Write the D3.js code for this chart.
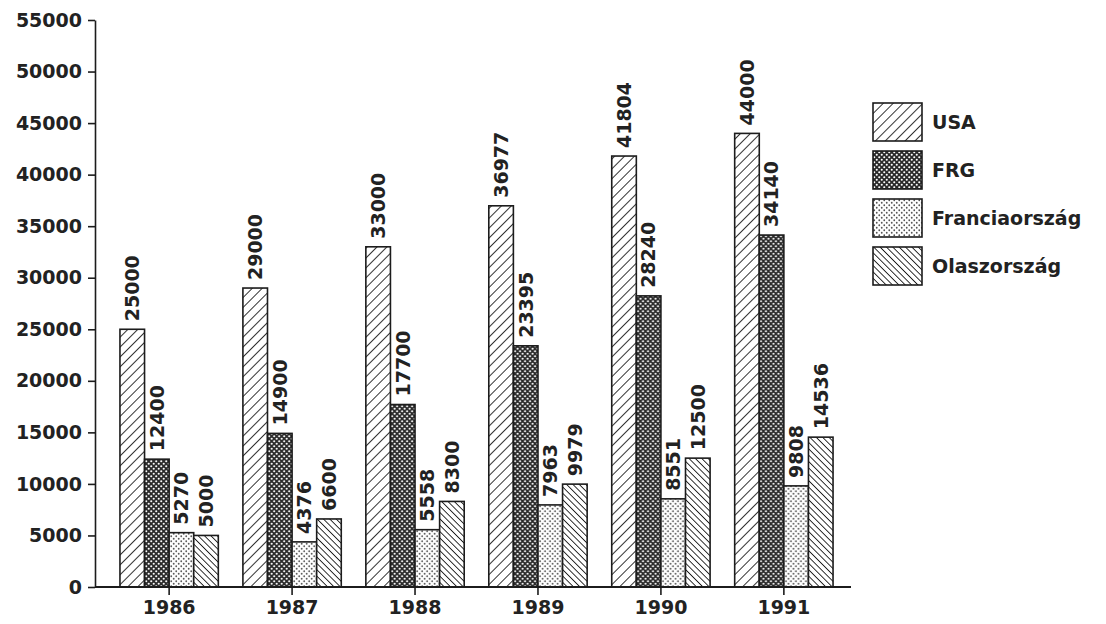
<!DOCTYPE html>
<html>
<head>
<meta charset="utf-8">
<script src="https://cdn.jsdelivr.net/npm/d3@7"></script>
<style>
  html, body { margin: 0; padding: 0; background: #ffffff; }
  svg { display: block; }
  text { font-family: "DejaVu Sans", sans-serif; font-weight: bold; fill: #222; }
</style>
</head>
<body>
<svg id="chart" width="1106" height="624"></svg>
<script>
// Years on the category axis
const years = ["1986", "1987", "1988", "1989", "1990", "1991"];

// Series names (legend order)
const seriesNames = ["USA", "FRG", "Franciaország", "Olaszország"];

// Values per series, one per year
const usa      = [25000, 29000, 33000, 36977, 41804, 44000];
const frg      = [12400, 14900, 17700, 23395, 28240, 34140];
const francia  = [5270, 4376, 5558, 7963, 8551, 9808];
const olasz    = [5000, 6600, 8300, 9979, 12500, 14536];

// Value axis ticks
const yTicks = [0, 5000, 10000, 15000, 20000, 25000, 30000, 35000, 40000, 45000, 50000, 55000];

const seriesValues = [usa, frg, francia, olasz];
const patternIds = ["pat-usa", "pat-frg", "pat-fra", "pat-ita"];

const ink = "#1c1c1c";
const svg = d3.select("#chart");

// ---- fill patterns ----
const defs = svg.append("defs");

// forward hatch
const pUsa = defs.append("pattern")
  .attr("id", "pat-usa").attr("patternUnits", "userSpaceOnUse")
  .attr("width", 7).attr("height", 7)
  .attr("patternTransform", "rotate(45)");
pUsa.append("rect").attr("width", 7).attr("height", 7).attr("fill", "#fff");
pUsa.append("line").attr("x1", 0).attr("y1", 0).attr("x2", 0).attr("y2", 7)
  .attr("stroke", ink).attr("stroke-width", 1.8);

// dark dense dots
const pFrg = defs.append("pattern")
  .attr("id", "pat-frg").attr("patternUnits", "userSpaceOnUse")
  .attr("width", 5).attr("height", 5);
pFrg.append("rect").attr("width", 5).attr("height", 5).attr("fill", "#2a2a2a");
pFrg.append("circle").attr("cx", 1.25).attr("cy", 1.25).attr("r", 1.05).attr("fill", "#fff");
pFrg.append("circle").attr("cx", 3.75).attr("cy", 3.75).attr("r", 1.05).attr("fill", "#fff");

// light dots
const pFra = defs.append("pattern")
  .attr("id", "pat-fra").attr("patternUnits", "userSpaceOnUse")
  .attr("width", 5).attr("height", 5);
pFra.append("rect").attr("width", 5).attr("height", 5).attr("fill", "#fff");
pFra.append("circle").attr("cx", 1.25).attr("cy", 1.25).attr("r", 0.9).attr("fill", "#555");
pFra.append("circle").attr("cx", 3.75).attr("cy", 3.75).attr("r", 0.9).attr("fill", "#555");

// backward dense hatch
const pIta = defs.append("pattern")
  .attr("id", "pat-ita").attr("patternUnits", "userSpaceOnUse")
  .attr("width", 4.5).attr("height", 4.5)
  .attr("patternTransform", "rotate(-45)");
pIta.append("rect").attr("width", 4.5).attr("height", 4.5).attr("fill", "#fff");
pIta.append("line").attr("x1", 0).attr("y1", 0).attr("x2", 0).attr("y2", 4.5)
  .attr("stroke", ink).attr("stroke-width", 1.8);

// ---- scales ----
const axisX = 95, baseY = 587, topY = 20, rightX = 858, baseEnd = 851;

const y = d3.scaleLinear().domain([0, 55000]).range([baseY, topY]);

const x0 = d3.scaleBand().domain(years)
  .range([axisX, rightX]).paddingInner(0.2).paddingOuter(0.203);

const x1 = d3.scaleBand().domain(seriesNames)
  .range([0, x0.bandwidth()]).padding(0);

// ---- y axis ----
const yAxis = svg.append("g")
  .attr("transform", `translate(${axisX},0)`)
  .call(d3.axisLeft(y).tickValues(yTicks).tickFormat(d3.format("d"))
    .tickSize(7).tickSizeOuter(0).tickPadding(6));
yAxis.select(".domain").attr("stroke", ink).attr("stroke-width", 1.6);
yAxis.selectAll(".tick line").attr("stroke", ink).attr("stroke-width", 1.6);
yAxis.selectAll(".tick text")
  .attr("font-family", "DejaVu Sans").attr("font-weight", "bold")
  .attr("font-size", 19).attr("fill", "#222");

// ---- bars ----
const groups = svg.append("g").selectAll("g")
  .data(years)
  .join("g")
  .attr("transform", d => `translate(${x0(d)},0)`);

groups.selectAll("rect")
  .data((yr, i) => seriesNames.map((s, k) => ({ series: s, k, value: seriesValues[k][i] })))
  .join("rect")
  .attr("x", d => x1(d.series))
  .attr("y", d => y(d.value))
  .attr("width", x1.bandwidth())
  .attr("height", d => baseY - y(d.value))
  .attr("fill", d => `url(#${patternIds[d.k]})`)
  .attr("stroke", ink)
  .attr("stroke-width", 1.6);

// value labels, rotated
groups.selectAll("text.val")
  .data((yr, i) => seriesNames.map((s, k) => ({ series: s, k, value: seriesValues[k][i] })))
  .join("text")
  .attr("class", "val")
  .attr("transform", d => `translate(${x1(d.series) + x1.bandwidth() / 2},${y(d.value) - 8}) rotate(-90)`)
  .attr("dy", "0.36em")
  .attr("text-anchor", "start")
  .attr("font-size", 19)
  .text(d => d.value);

// ---- x axis ----
svg.append("line")
  .attr("x1", axisX).attr("x2", baseEnd)
  .attr("y1", baseY).attr("y2", baseY)
  .attr("stroke", ink).attr("stroke-width", 1.8);

const xAxis = svg.append("g")
  .attr("transform", `translate(0,${baseY})`)
  .call(d3.axisBottom(x0).tickSize(8).tickSizeOuter(0).tickPadding(6));
xAxis.select(".domain").remove();
xAxis.selectAll(".tick line").attr("stroke", ink).attr("stroke-width", 1.6);
xAxis.selectAll(".tick text")
  .attr("font-family", "DejaVu Sans").attr("font-weight", "bold")
  .attr("font-size", 19).attr("fill", "#222");

// ---- legend ----
const legend = svg.append("g").attr("transform", "translate(873,103)");
const items = legend.selectAll("g")
  .data(seriesNames)
  .join("g")
  .attr("transform", (d, i) => `translate(0,${i * 48})`);
items.append("rect")
  .attr("width", 49).attr("height", 38)
  .attr("fill", (d, i) => `url(#${patternIds[i]})`)
  .attr("stroke", ink).attr("stroke-width", 1.6);
items.append("text")
  .attr("x", 59).attr("y", 19).attr("dy", "0.36em")
  .attr("font-size", 19)
  .text(d => d);
</script>
</body>
</html>
